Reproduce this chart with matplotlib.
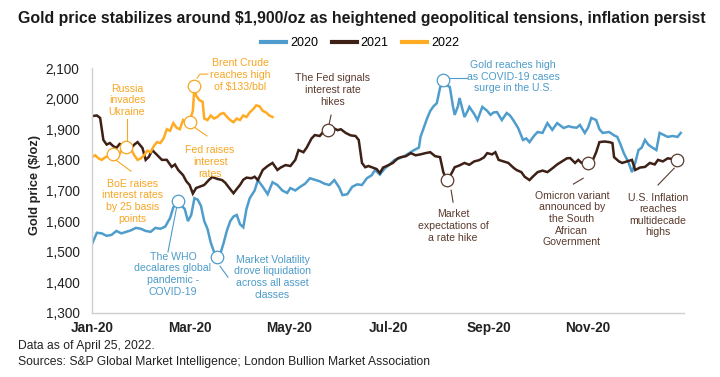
import matplotlib.pyplot as plt
import matplotlib.dates as mdates
import numpy as np
import pandas as pd

plt.rcParams['font.family'] = ['Liberation Sans', 'DejaVu Sans']

# gold price (day of year, $/oz)
days_2020 = [0, 3, 6, 9, 12, 15, 18, 21, 24, 27, 30, 33, 36, 39, 42, 45, 48, 50, 53, 55,
             57, 59, 61, 63, 65, 67, 69, 71, 73, 75, 77, 79, 81, 83, 85, 87, 89, 91, 93, 95,
             97, 100, 102, 105, 108, 111, 114, 117, 120, 122, 125, 128, 131, 134, 137, 140, 143, 146, 149, 152,
             154, 157, 160, 163, 166, 169, 172, 174, 177, 180, 183, 186, 189, 192, 195, 198, 201, 202, 204, 206,
             208, 210, 212, 214, 216, 218, 220, 222, 223, 225, 226, 228, 229, 231, 232, 235, 237, 240, 243, 245,
             247, 249, 252, 255, 257, 259, 262, 265, 267, 269, 272, 274, 277, 280, 283, 286, 290, 293, 295, 298,
             300, 303, 305, 307, 310, 312, 314, 318, 321, 323, 325, 327, 330, 332, 334, 336, 338, 340, 342, 344,
             347, 349, 352, 354, 357, 360, 362]
gold_2020 = [1525, 1562, 1560, 1552, 1555, 1568, 1560, 1565, 1570, 1578, 1575, 1568, 1565, 1578, 1575, 1582, 1610, 1645, 1665, 1650,
             1640, 1600, 1620, 1675, 1670, 1650, 1600, 1575, 1530, 1500, 1482, 1495, 1530, 1570, 1600, 1615, 1620, 1590, 1580, 1640,
             1675, 1700, 1734, 1712, 1688, 1727, 1718, 1700, 1692, 1708, 1700, 1712, 1722, 1740, 1735, 1730, 1722, 1718, 1734, 1710,
             1685, 1688, 1712, 1720, 1718, 1740, 1750, 1767, 1752, 1772, 1785, 1800, 1805, 1812, 1822, 1832, 1840, 1875, 1905, 1935,
             1960, 1975, 1985, 2035, 2060, 2044, 2038, 1973, 1947, 1975, 2002, 1960, 1940, 1960, 1973, 1950, 1930, 1973, 1960, 1947,
             1955, 1956, 1930, 1953, 1945, 1930, 1904, 1865, 1870, 1858, 1880, 1891, 1888, 1920, 1898, 1920, 1904, 1910, 1907, 1905,
             1914, 1888, 1905, 1937, 1930, 1900, 1888, 1891, 1880, 1875, 1850, 1822, 1790, 1760, 1790, 1832, 1840, 1865, 1850, 1842,
             1832, 1888, 1880, 1875, 1878, 1875, 1888]

days_2021 = [0, 3, 5, 7, 9, 11, 13, 15, 17, 19, 21, 23, 26, 28, 31, 33, 35, 37, 40, 43,
             46, 49, 51, 53, 56, 58, 60, 62, 64, 66, 69, 72, 74, 77, 80, 82, 84, 87, 89, 91,
             93, 95, 98, 100, 102, 105, 108, 111, 114, 116, 119, 122, 125, 127, 130, 132, 135, 137, 140, 142,
             145, 148, 151, 153, 156, 159, 162, 164, 166, 168, 170, 172, 175, 177, 179, 182, 185, 188, 190, 193,
             196, 199, 202, 205, 208, 211, 214, 216, 218, 220, 223, 226, 229, 232, 235, 238, 241, 243, 246, 248,
             250, 253, 256, 259, 261, 264, 266, 269, 271, 274, 277, 280, 283, 286, 289, 292, 294, 297, 299, 301,
             304, 306, 308, 310, 312, 315, 318, 320, 321, 324, 326, 329, 332, 334, 337, 340, 343, 346, 348, 351,
             354, 357, 360, 363]
gold_2021 = [1943, 1945, 1937, 1865, 1850, 1855, 1845, 1839, 1852, 1848, 1840, 1832, 1850, 1858, 1839, 1800, 1810, 1832, 1816, 1800,
             1800, 1777, 1785, 1767, 1750, 1730, 1718, 1690, 1708, 1712, 1718, 1735, 1744, 1738, 1734, 1725, 1711, 1691, 1705, 1718,
             1735, 1742, 1740, 1745, 1734, 1767, 1780, 1790, 1767, 1775, 1783, 1780, 1800, 1832, 1825, 1840, 1870, 1881, 1878, 1890,
             1897, 1905, 1897, 1900, 1888, 1880, 1878, 1865, 1790, 1776, 1780, 1776, 1770, 1757, 1775, 1782, 1790, 1805, 1809, 1812,
             1822, 1815, 1818, 1822, 1825, 1812, 1809, 1760, 1734, 1745, 1776, 1782, 1790, 1784, 1795, 1799, 1808, 1822, 1818, 1825,
             1800, 1795, 1790, 1775, 1767, 1760, 1745, 1734, 1745, 1760, 1765, 1760, 1772, 1785, 1795, 1805, 1806, 1790, 1800, 1790,
             1795, 1785, 1800, 1825, 1858, 1860, 1858, 1855, 1809, 1795, 1790, 1795, 1800, 1767, 1775, 1777, 1790, 1785, 1800, 1795,
             1805, 1803, 1800, 1805]

days_2022 = [0, 2, 4, 6, 8, 10, 12, 14, 16, 18, 20, 22, 24, 26, 28, 30, 32, 34, 36, 38,
             40, 42, 44, 46, 48, 50, 52, 54, 56, 58, 60, 62, 63, 64, 66, 68, 69, 71, 73, 75,
             77, 79, 81, 83, 85, 87, 89, 91, 93, 95, 97, 99, 101, 103, 105, 107, 109, 111]
gold_2022 = [1809, 1815, 1805, 1800, 1808, 1812, 1818, 1822, 1810, 1830, 1840, 1845, 1835, 1815, 1800, 1805, 1815, 1830, 1825, 1845,
             1858, 1855, 1870, 1900, 1895, 1920, 1905, 1900, 1930, 1920, 1925, 1960, 2040, 2010, 1995, 1990, 1935, 1930, 1945, 1935,
             1940, 1950, 1953, 1940, 1930, 1923, 1935, 1930, 1945, 1940, 1955, 1965, 1978, 1975, 1960, 1955, 1945, 1940]

years = ['2020', '2021', '2022']
line_colors = ['#4f9dcc', '#3d2016', '#ffab24']
text_colors = ['#4d9bc9', '#5a3a2e', '#f7a623']

# annotations: year index, event day, text, text position, leader line
note_year = [2, 2, 2, 2, 0, 0, 1, 0, 1, 1, 1]
note_day = [21, 13, 63, 60, 53, 77, 145, 216, 218, 305, 360]
note_text = ['Russia\ninvades\nUkraine',
             'BoE raises\ninterest rates\nby 25 basis\npoints',
             'Brent Crude\nreaches high\nof $133/bbl',
             'Fed raises\ninterest\nrates',
             'The WHO\ndecalares global\npandemic -\nCOVID-19',
             'Market Volatility\ndrove liquidation\nacross all asset\nclasses',
             'The Fed signals\ninterest rate\nhikes',
             'Gold reaches high\nas COVID-19 cases\nsurge in the U.S.',
             'Market\nexpectations of\na rate hike',
             'Omicron variant\nannounced by\nthe South\nAfrican\nGovernment',
             'U.S. Inflation\nreaches\nmultidecade\nhighs']
note_pos = [(21.5, 1995), (25, 1665), (91, 2077), (72.6, 1793), (49.8, 1427), (111, 1417),
            (148, 2028), (259, 2071), (222, 1584), (295, 1607), (348, 1620)]
leader_days = [[21.5, 21.5], [14.8, 24], [64.6, 66.4, 71.3], [62, 70.7], [52.3, 46.7], [78.7, 83.6],
               [147, 145.8], [219.6, 230.6], [220.8, 222], [302, 296], [358, 348]]
leader_vals = [[1933, 1861], [1799, 1763], [2067, 2080, 2080], [1910, 1878], [1652, 1499], [1453, 1417],
               [1946, 1917], [2067, 2067], [1701, 1662], [1740, 1721], [1773, 1718]]

base = pd.Timestamp('2020-01-01')


def to_date(d):
    return base + pd.to_timedelta(np.asarray(d, dtype=float), unit='D')


series_days = [days_2020, days_2021, days_2022]
series_vals = [gold_2020, gold_2021, gold_2022]

fig = plt.figure(figsize=(7.2, 3.77), dpi=100)
ax = fig.add_axes([92 / 720, 1 - 313 / 377, 592 / 720, 245 / 377])

lines = []
for i in range(3):
    ln, = ax.plot(to_date(series_days[i]), series_vals[i], color=line_colors[i], lw=1.8,
                  label=years[i], solid_joinstyle='miter')
    lines.append(ln)

for k in range(len(note_text)):
    i = note_year[k]
    tc = text_colors[i]
    ax.plot(to_date(leader_days[k]), leader_vals[k], color=tc, lw=0.8, zorder=4)
    v = np.interp(note_day[k], series_days[i], series_vals[i])
    ax.plot(to_date([note_day[k]]), [v], 'o', ms=9, mfc='white', mec=tc, mew=0.9, zorder=5)
    ax.text(to_date([note_pos[k][0]])[0], note_pos[k][1], note_text[k], color=tc,
            fontsize=7.6, ha='center', va='center', linespacing=1.2)

ax.set_ylim(1300, 2100)
ax.set_xlim(base, base + pd.Timedelta(days=364))
ax.set_yticks(range(1300, 2101, 100))
ax.yaxis.set_major_formatter(plt.FuncFormatter(lambda v, p: f'{int(v):,}'))
ax.xaxis.set_major_locator(mdates.MonthLocator(bymonth=[1, 3, 5, 7, 9, 11]))
ax.xaxis.set_major_formatter(mdates.DateFormatter('%b-%y'))
ax.tick_params(axis='y', length=0, pad=9, labelsize=9.8, colors='#222222')
ax.tick_params(axis='x', length=0, pad=6, labelsize=9.8, colors='#222222')
for lab in ax.get_xticklabels():
    lab.set_fontweight('bold')

for s in ['top', 'right']:
    ax.spines[s].set_visible(False)
for s in ['left', 'bottom']:
    ax.spines[s].set_color('#cfcfcf')
    ax.spines[s].set_linewidth(1)

fig.text(35 / 720, 1 - 185 / 377, 'Gold price ($/oz)', rotation=90, ha='center', va='center',
         fontsize=9.2, fontweight='bold', color='#222222')

fig.text(362 / 720, 1 - 18 / 377,
         'Gold price stabilizes around $1,900/oz as heightened geopolitical tensions, inflation persist',
         ha='center', va='center', fontsize=11.4, fontweight='bold', color='#1a1a1a')

fig.legend(handles=lines, loc='center', bbox_to_anchor=(360 / 720, 1 - 43 / 377), ncol=3,
           frameon=False, fontsize=9, handlelength=2.0, handletextpad=0.3, columnspacing=1.1)
for lg in fig.legends:
    for h in lg.get_lines():
        h.set_linewidth(3)

fig.text(18 / 720, 1 - 346 / 377, 'Data as of April 25, 2022.', fontsize=8.7, va='center', color='#222222')
fig.text(18 / 720, 1 - 362 / 377, 'Sources: S&P Global Market Intelligence; London Bullion Market Association',
         fontsize=8.7, va='center', color='#222222')

fig.savefig('out.png', dpi=100)
